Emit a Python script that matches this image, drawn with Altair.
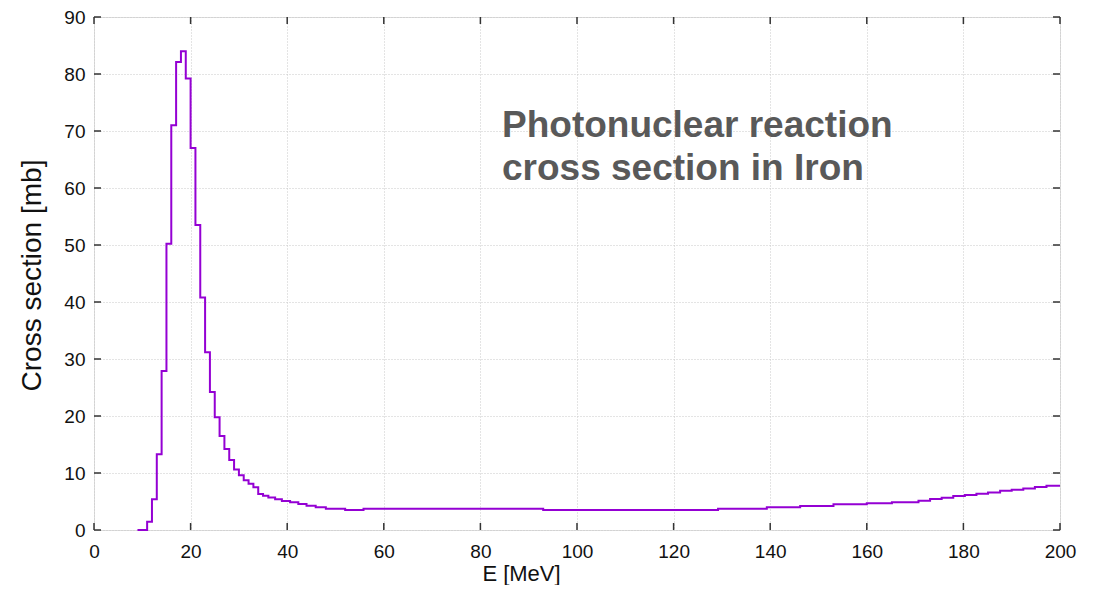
import altair as alt
import pandas as pd

# Bin left edges (MeV) and cross section values (mb)
bin_left = [9, 10, 11, 12, 13, 14, 15, 16, 17, 18, 19, 20, 21, 22, 23, 24, 25, 26, 27, 28,
            29, 30, 31, 32, 33, 34, 35, 36.1, 37.5, 38.9, 40.6, 42.3, 44.0, 45.9, 48.0,
            52.0, 55.8, 93.0, 129.2, 139.3, 146.2, 153.1, 160.0, 165.2, 170.7, 173.1,
            175.5, 177.9, 180.3, 182.7, 185.1, 187.6, 190.0, 192.4, 194.8, 197.2]
sigma = [0, 0, 1.45, 5.4, 13.3, 27.9, 50.2, 71.0, 82.1, 84.0, 79.2, 67.0, 53.5, 40.8, 31.2,
         24.2, 19.8, 16.5, 14.2, 12.3, 10.6, 9.6, 8.75, 8.1, 7.5, 6.3, 6.0, 5.7, 5.4, 5.1,
         4.85, 4.56, 4.26, 3.98, 3.74, 3.5, 3.72, 3.5, 3.72, 3.98, 4.2, 4.5, 4.68, 4.87,
         5.14, 5.44, 5.67, 5.96, 6.14, 6.37, 6.6, 6.9, 7.07, 7.3, 7.54, 7.77]
x_end = 200

x_ticks = list(range(0, 201, 20))
y_ticks = list(range(0, 91, 10))
title_lines = ["Photonuclear reaction", "cross section in Iron"]

W, H = 966, 513
FONT = "Liberation Sans"
TICK = 7

df = pd.DataFrame({"E": bin_left + [x_end], "s": sigma + [sigma[-1]]})
xt = pd.DataFrame({"E": x_ticks})
yt = pd.DataFrame({"s": y_ticks})

xs = alt.Scale(domain=[0, 200], nice=False, zero=False)
ys = alt.Scale(domain=[0, 90], nice=False)

x_axis = alt.Axis(
    values=x_ticks, title="E [MeV]", grid=True, domain=False, ticks=False,
    labelFont=FONT, labelFontSize=19, labelColor="#111", labelPadding=12,
    labelFlush=False, labelOverlap=False,
    titleFont=FONT, titleFontSize=22, titleFontWeight="normal", titleColor="#111",
    titleX=427, titleY=50, titleBaseline="alphabetic", titleAlign="center",
    gridColor="#c8c8c8", gridDash=[1, 2], gridWidth=1,
)
y_axis = alt.Axis(
    values=y_ticks, title="Cross section [mb]", grid=True, domain=False, ticks=False,
    labelFont=FONT, labelFontSize=19, labelColor="#111", labelPadding=9,
    labelFlush=False, labelOverlap=False,
    titleFont=FONT, titleFontSize=28, titleFontWeight="normal", titleColor="#111",
    titleX=-62, titleY=258, titleBaseline="middle", titleAlign="center", titleAngle=270,
    gridColor="#c8c8c8", gridDash=[1, 2], gridWidth=1,
)

X = alt.X("E:Q", scale=xs, axis=x_axis)
Y = alt.Y("s:Q", scale=ys, axis=y_axis)

line = alt.Chart(df).mark_line(
    interpolate="step-after", color="#9400D3", strokeWidth=2
).encode(x=X, y=Y)

tick_style = dict(color="#333", strokeWidth=1.5)
bt = alt.Chart(xt).mark_rule(**tick_style).encode(
    x=X, y=alt.value(H), y2=alt.value(H - TICK))
tt = alt.Chart(xt).mark_rule(**tick_style).encode(
    x=X, y=alt.value(0), y2=alt.value(TICK))
lt = alt.Chart(yt).mark_rule(**tick_style).encode(
    y=Y, x=alt.value(0), x2=alt.value(TICK))
rt = alt.Chart(yt).mark_rule(**tick_style).encode(
    y=Y, x=alt.value(W), x2=alt.value(W - TICK))

label = alt.Chart(pd.DataFrame({"k": [0]})).mark_text(
    text=title_lines, align="left", baseline="alphabetic", font=FONT,
    fontSize=37, fontWeight="bold", color="#595959", lineHeight=43,
).encode(x=alt.value(408), y=alt.value(120))

chart = alt.layer(line, bt, tt, lt, rt, label).properties(
    width=W, height=H,
    autosize=alt.AutoSizeParams(type="none"),
    padding={"left": 86, "top": 9, "right": 30, "bottom": 55},
).configure_view(stroke="#333", strokeWidth=1.5).configure(background="white")

chart.save("out.html", embed_options={"renderer": "svg", "actions": False})
